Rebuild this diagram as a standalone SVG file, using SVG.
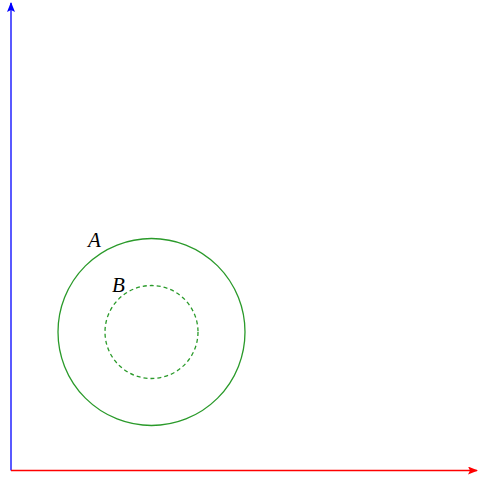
<svg xmlns="http://www.w3.org/2000/svg" width="478" height="479" viewBox="0 0 478 479">
<style>
.lbl{font-family:"Liberation Serif",serif;font-style:italic;font-size:21px;fill:#000}
.c{fill:none;stroke:#2a9a2a;stroke-width:1.3}
</style>
<defs>
<marker id="ab" markerWidth="10" markerHeight="8" refX="9" refY="4" orient="auto" markerUnits="userSpaceOnUse"><path d="M0,0 L10,4 L0,8 L2,4 Z" fill="#0000ff"/></marker>
<marker id="ar" markerWidth="10" markerHeight="8" refX="9" refY="4" orient="auto" markerUnits="userSpaceOnUse"><path d="M0,0 L10,4 L0,8 L2,4 Z" fill="#ff0000"/></marker>
</defs>
<g id="connectors">
<line x1="11" y1="470.5" x2="11" y2="3" stroke="#0000ff" stroke-width="1.3" marker-end="url(#ab)"/>
<line x1="11" y1="470.5" x2="477" y2="470.5" stroke="#ff0000" stroke-width="1.3" marker-end="url(#ar)"/>
</g>
<g id="A">
<circle class="c" cx="151.5" cy="332" r="93.5"/>
<text class="lbl" x="88" y="247">A</text>
</g>
<g id="B">
<circle class="c" cx="151.5" cy="332" r="46.5" stroke-dasharray="4,3"/>
<text class="lbl" x="112" y="292">B</text>
</g>
</svg>
